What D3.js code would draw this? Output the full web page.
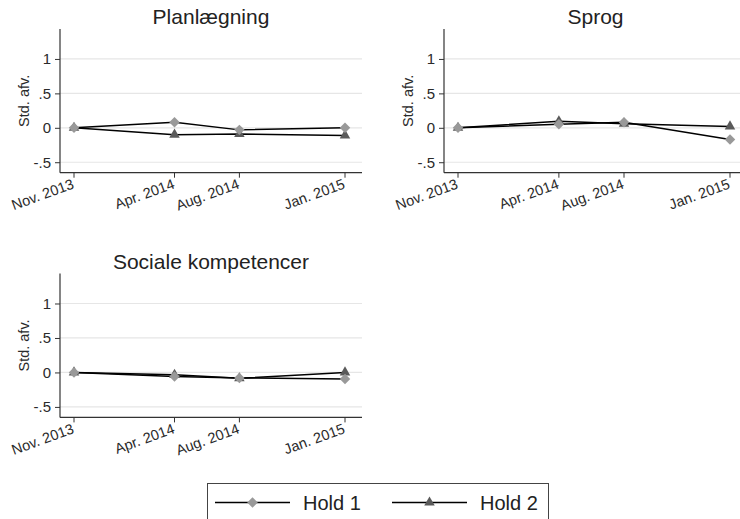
<!DOCTYPE html>
<html>
<head>
<meta charset="utf-8">
<script src="https://cdn.jsdelivr.net/npm/d3@7"></script>
<style>
  body { margin: 0; background: #fff; }
  svg { display: block; font-family: "Liberation Sans", Arial, sans-serif; }
</style>
</head>
<body>
<div id="chart"></div>
<script>
// survey rounds (x) and the two groups, per panel
const rounds = ["2013-11-15", "2014-04-22", "2014-08-02", "2015-01-15"];
const roundLabels = ["Nov. 2013", "Apr. 2014", "Aug. 2014", "Jan. 2015"];
const panelTitles = ["Planlægning", "Sprog", "Sociale kompetencer"];
const seriesNames = ["Hold 1", "Hold 2"];

const planHold1 = [0, 0.08, -0.03, 0];
const planHold2 = [0, -0.10, -0.09, -0.11];
const sprogHold1 = [0, 0.05, 0.08, -0.17];
const sprogHold2 = [0, 0.095, 0.06, 0.02];
const socHold1 = [0, -0.06, -0.08, -0.095];
const socHold2 = [0, -0.035, -0.085, 0];

const yTicks = [-0.5, 0, 0.5, 1];
const yTickLabels = ["-.5", "0", ".5", "1"];

const width = 740, height = 519;
const parse = d3.timeParse("%Y-%m-%d");
const dates = rounds.map(parse);

const svg = d3.select("#chart").append("svg")
    .attr("width", width)
    .attr("height", height);

// panel boxes (plot region)
const panels = [
    { title: panelTitles[0], h1: planHold1, h2: planHold2, left: 60, top: 29, right: 362, bottom: 172.7 },
    { title: panelTitles[1], h1: sprogHold1, h2: sprogHold2, left: 444, top: 29, right: 747, bottom: 172.7 },
    { title: panelTitles[2], h1: socHold1, h2: socHold2, left: 60, top: 273.5, right: 362, bottom: 417.4 }
];

const diamond = d3.symbol().type(d3.symbolDiamond2).size(70);
const triangle = d3.symbol().type(d3.symbolTriangle).size(48);

panels.forEach(function (p) {
    let g = svg.append("g");

    let x = d3.scaleTime()
        .domain(d3.extent(dates))
        .range([p.left + 14, p.right - 17]);
    let y = d3.scaleLinear()
        .domain([-0.652, 1.435])
        .range([p.bottom, p.top]);

    // gridlines
    g.selectAll("line.grid")
        .data(yTicks)
        .join("line")
        .attr("class", "grid")
        .attr("x1", p.left).attr("x2", p.right)
        .attr("y1", d => y(d)).attr("y2", d => y(d))
        .attr("stroke", "#e6e6e6")
        .attr("stroke-width", 1.2);

    // y axis
    let yAxis = g.append("g")
        .attr("transform", `translate(${p.left},0)`)
        .call(d3.axisLeft(y).tickValues(yTicks).tickSize(5).tickPadding(4)
            .tickFormat((d, i) => yTickLabels[i]));
    yAxis.select(".domain").remove();
    yAxis.selectAll("line").attr("stroke", "#333");
    yAxis.selectAll("text").attr("font-size", 15).attr("fill", "#2a2a2a")
        .attr("font-family", "Liberation Sans, Arial, sans-serif");
    g.append("line")
        .attr("x1", p.left).attr("x2", p.left)
        .attr("y1", p.top).attr("y2", p.bottom)
        .attr("stroke", "#333").attr("stroke-width", 1.2);

    // x axis
    g.append("line")
        .attr("x1", p.left).attr("x2", p.right)
        .attr("y1", p.bottom).attr("y2", p.bottom)
        .attr("stroke", "#333").attr("stroke-width", 1.2);
    g.selectAll("line.xtick")
        .data(dates)
        .join("line")
        .attr("class", "xtick")
        .attr("x1", d => x(d)).attr("x2", d => x(d))
        .attr("y1", p.bottom).attr("y2", p.bottom + 5)
        .attr("stroke", "#333");
    g.selectAll("text.xlab")
        .data(dates)
        .join("text")
        .attr("class", "xlab")
        .attr("transform", d => `translate(${x(d)},${p.bottom + 4}) rotate(-20)`)
        .attr("x", -3)
        .attr("dy", 11)
        .attr("text-anchor", "end")
        .attr("font-size", 14.5)
        .attr("fill", "#2a2a2a")
        .text((d, i) => roundLabels[i]);

    // y title
    g.append("text")
        .attr("transform", `translate(${p.left - 31},${(p.top + p.bottom) / 2}) rotate(-90)`)
        .attr("text-anchor", "middle")
        .attr("font-size", 14.5)
        .attr("fill", "#2a2a2a")
        .text("Std. afv.");

    // panel title
    g.append("text")
        .attr("x", (p.left + p.right) / 2)
        .attr("y", p.top - 5)
        .attr("text-anchor", "middle")
        .attr("font-size", 21)
        .attr("fill", "#222")
        .text(p.title);

    let line = d3.line()
        .x((d, i) => x(dates[i]))
        .y(d => y(d));

    // Hold 2 first so Hold 1 ends up on top
    g.append("path")
        .datum(p.h2)
        .attr("d", line)
        .attr("fill", "none")
        .attr("stroke", "#000")
        .attr("stroke-width", 1.5);
    g.selectAll("path.tri")
        .data(p.h2)
        .join("path")
        .attr("class", "tri")
        .attr("d", triangle)
        .attr("transform", (d, i) => `translate(${x(dates[i])},${y(d)})`)
        .attr("fill", "#5a5a5a");

    g.append("path")
        .datum(p.h1)
        .attr("d", line)
        .attr("fill", "none")
        .attr("stroke", "#000")
        .attr("stroke-width", 1.5);
    g.selectAll("path.dia")
        .data(p.h1)
        .join("path")
        .attr("class", "dia")
        .attr("d", diamond)
        .attr("transform", (d, i) => `translate(${x(dates[i])},${y(d)})`)
        .attr("fill", "#999");
});

// legend
let legend = svg.append("g");
legend.append("rect")
    .attr("x", 207.5).attr("y", 483.5)
    .attr("width", 341).attr("height", 50)
    .attr("fill", "#fff")
    .attr("stroke", "#444");

let legendItems = [
    { name: seriesNames[0], x0: 215, mark: diamond, color: "#999" },
    { name: seriesNames[1], x0: 392, mark: triangle, color: "#5a5a5a" }
];
legendItems.forEach(function (it) {
    legend.append("line")
        .attr("x1", it.x0).attr("x2", it.x0 + 75)
        .attr("y1", 502.5).attr("y2", 502.5)
        .attr("stroke", "#000").attr("stroke-width", 1.5);
    legend.append("path")
        .attr("d", it.mark)
        .attr("transform", `translate(${it.x0 + 37.5},502.5)`)
        .attr("fill", it.color);
    legend.append("text")
        .attr("x", it.x0 + 88)
        .attr("y", 510)
        .attr("font-size", 20)
        .attr("fill", "#222")
        .text(it.name);
});
</script>
</body>
</html>
